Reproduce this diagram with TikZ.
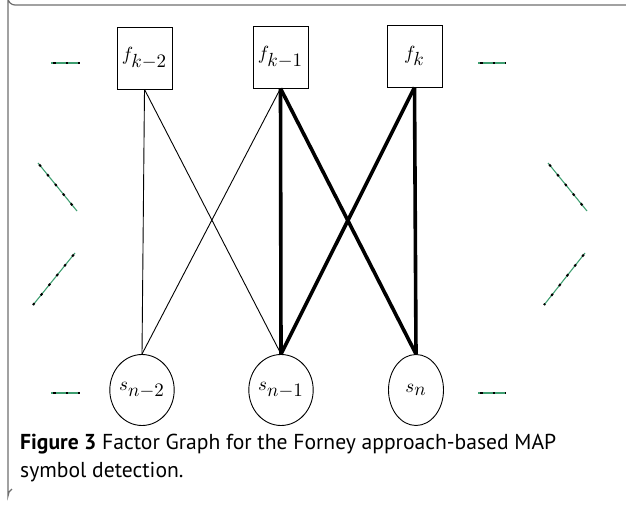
\documentclass[tikz,border=0pt]{standalone}
\usepackage{fontspec}
\usetikzlibrary{shapes.geometric}
\newfontfamily\capfont{PT Sans}
\definecolor{dotgreen}{RGB}{62,158,112}
\definecolor{framegray}{RGB}{110,110,110}
\newcommand{\lbl}[2]{\scalebox{1.9}{$#1_{\textstyle #2}$}}

\begin{document}
\begin{tikzpicture}[x=1pt,y=-1pt,
  fac/.style={draw, line width=0.9pt, minimum width=55pt, minimum height=62pt, inner sep=0pt},
  var/.style={draw, ellipse, line width=0.9pt, minimum width=55pt, minimum height=71pt, inner sep=0pt},
  thinedge/.style={line width=0.9pt},
  thickedge/.style={line width=3.6pt},
  gapline/.style={dotgreen, line width=1.1pt, postaction={draw=black, line width=2pt, dash pattern=on 2.5pt off 10pt, dash phase=-2pt}},
  capline/.style={anchor=base west, inner sep=0pt, font=\capfont\fontsize{21.6}{26}\selectfont}]
\useasboundingbox (0,0) rectangle (626,505);
% frame of the figure box
\draw [framegray, line width=1.2pt] (626,5) -- (15,5) arc (90:180:7) -- (8,496) arc (180:240:8);
%
% factor nodes
\node [fac] (fkm2) at (144.5,58) {\lbl{f}{k{-}2}};
\node [fac] (fkm1) at (280.5,57) {\lbl{f}{k{-}1}};
\node [fac] (fk)   at (414.5,56) {\lbl{f}{k}};
% state nodes
\node [var] (snm2) at (142,390) {\lbl{s}{n{-}2}};
\node [var] (snm1) at (281,390) {\lbl{s}{n{-}1}};
\node [var] (sn)   at (416,390) {\lbl{s}{n}};
%
\draw [thinedge] (fkm2.south) -- (snm2.north);
\draw [thinedge] (fkm2.south) -- (snm1.north);
\draw [thinedge] (fkm1.south) -- (snm2.north);
\draw [thickedge] (fkm1.south) -- (snm1.north);
\draw [thickedge] (fkm1.south) -- (sn.north);
\draw [thickedge] (fk.south) -- (snm1.north);
\draw [thickedge] (fk.south) -- (sn.north);
%
% continuation marks
\draw [gapline] (51,63) -- (80,63);
\draw [gapline] (478,63) -- (506,63);
\draw [gapline] (51,393) -- (80,393);
\draw [gapline] (478,393) -- (506,393);
\draw [gapline] (38,163) -- (77,211);
\draw [gapline] (75,253) -- (33,305);
\draw [gapline] (548,163) -- (587,211);
\draw [gapline] (585,253) -- (544,305);
%
\node [capline] (cap1) at (20,449) {\textbf{Figure 3} Factor Graph for the Forney approach-based MAP};
\node [capline] (cap2) at (20,477) {symbol detection.};
\end{tikzpicture}
\end{document}
